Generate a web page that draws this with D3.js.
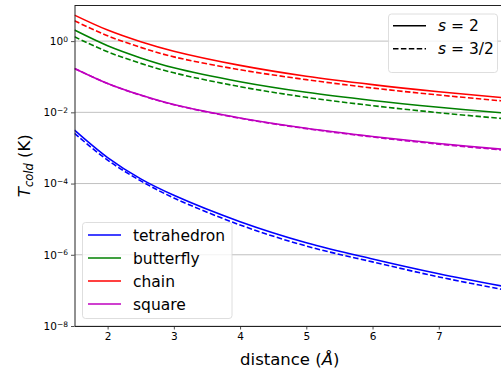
<!DOCTYPE html>
<html>
<head>
<meta charset="utf-8">
<script src="https://cdn.jsdelivr.net/npm/d3@7"></script>
<style>
  body { margin: 0; background: #fff; }
  svg { display: block; font-family: "DejaVu Sans", sans-serif; }
</style>
</head>
<body>
<div id="chart"></div>
<script>
// values
var distance = [1.5, 2, 2.5, 3, 4, 5, 6, 7, 8];

var tetra_s2  = [3.16e-3, 5.36e-4, 1.35e-4, 4.68e-5, 8.5e-6, 2.18e-6, 7.6e-7, 2.92e-7, 1.28e-7];
var tetra_s32 = [2.55e-3, 4.55e-4, 1.19e-4, 3.95e-5, 6.87e-6, 1.76e-6, 6.32e-7, 2.39e-7, 1.03e-7];
var butter_s2  = [2.04, 0.741, 0.338, 0.178, 0.0726, 0.0366, 0.0216, 0.0139, 0.00948];
var butter_s32 = [1.32, 0.502, 0.237, 0.1285, 0.0525, 0.0264, 0.0154, 0.00977, 0.00659];
var chain_s2  = [5.37, 2.04, 0.96, 0.52, 0.208, 0.103, 0.060, 0.038, 0.0256];
var chain_s32 = [3.72, 1.41, 0.667, 0.361, 0.157, 0.0828, 0.0482, 0.0306, 0.0206];
var square_s2  = [0.171, 0.0648, 0.0305, 0.0165, 0.00692, 0.00356, 0.00209, 0.00133, 0.000904];
var square_s32 = [0.171, 0.0645, 0.0302, 0.0163, 0.00680, 0.00348, 0.00203, 0.00128, 0.00086];

var names = ["tetrahedron", "butterfly", "chain", "square"];
var colors = ["#0000ff", "#008000", "#ff0000", "#bf00bf"];
var solid = [tetra_s2, butter_s2, chain_s2, square_s2];
var dashed = [tetra_s32, butter_s32, chain_s32, square_s32];

var yTicks = [1e-8, 1e-6, 1e-4, 1e-2, 1];
var yExp = ["\u22128", "\u22126", "\u22124", "\u22122", "0"];
var xTicks = [2, 3, 4, 5, 6, 7];

var W = 501, H = 371,
	mLeft = 74.5, mRight = 505, mTop = 5.5, mBottom = 326;

var svg = d3.select("#chart").append("svg")
	.attr("width", W).attr("height", H);

var x = d3.scaleLinear().domain([1.5, 8]).range([mLeft, mRight]);
var y = d3.scaleLog().domain([1e-8, 10]).range([mBottom, mTop]);

svg.append("clipPath").attr("id", "clip")
	.append("rect").attr("x", mLeft).attr("y", mTop)
	.attr("width", mRight - mLeft).attr("height", mBottom - mTop);

// grid
svg.append("g").selectAll("line").data(yTicks).enter().append("line")
	.attr("x1", mLeft).attr("x2", mRight)
	.attr("y1", function(d) { return y(d); })
	.attr("y2", function(d) { return y(d); })
	.style("stroke", "#b0b0b0").style("stroke-width", 0.8);

var line = d3.line()
	.x(function(d) { return x(d[0]); })
	.y(function(d) { return y(d[1]); })
	.curve(d3.curveCatmullRom);

var plot = svg.append("g").attr("clip-path", "url(#clip)");

for (var i = 0; i < names.length; i++) {
	plot.append("path")
		.datum(d3.zip(distance, solid[i]))
		.attr("d", line)
		.style("fill", "none").style("stroke", colors[i]).style("stroke-width", 1.6);
	plot.append("path")
		.datum(d3.zip(distance, dashed[i]))
		.attr("d", line)
		.style("fill", "none").style("stroke", colors[i]).style("stroke-width", 1.6)
		.style("stroke-dasharray", "5.5,2.4");
}

// axes
var xAxis = d3.axisBottom(x).tickValues(xTicks).tickFormat(d3.format("d"))
	.tickSize(3.5).tickSizeOuter(0).tickPadding(3);
var yAxis = d3.axisLeft(y).tickValues(yTicks).tickSize(3.5).tickSizeOuter(0).tickPadding(3);

var gx = svg.append("g").attr("transform", "translate(0," + mBottom + ")").call(xAxis);
gx.selectAll("text").style("font-size", "10.5px").style("fill", "#000")
	.style("font-family", "DejaVu Sans");

var gy = svg.append("g").attr("transform", "translate(" + mLeft + ",0)").call(yAxis);
gy.selectAll("text").style("font-size", "10.5px").style("fill", "#000")
	.style("font-family", "DejaVu Sans")
	.text("")
	.each(function(d, j) {
		var t = d3.select(this);
		t.append("tspan").text("10");
		t.append("tspan").attr("dy", "-0.45em").style("font-size", "7.5px").text(yExp[j]);
	});

svg.selectAll(".domain").style("stroke", "#222").style("stroke-width", 1);
svg.selectAll(".tick line").style("stroke", "#222").style("stroke-width", 0.8);

// top spine
svg.append("line").attr("x1", mLeft).attr("x2", mRight).attr("y1", mTop).attr("y2", mTop)
	.style("stroke", "#222").style("stroke-width", 1);

// axis labels
var xl = svg.append("text").attr("x", (mLeft + mRight) / 2).attr("y", 365)
	.attr("text-anchor", "middle").style("font-size", "16.5px");
xl.append("tspan").text("distance (");
xl.append("tspan").style("font-style", "italic").text("\u00c5");
xl.append("tspan").text(")");

var yl = svg.append("text")
	.attr("transform", "translate(30," + ((mTop + mBottom) / 2) + ") rotate(-90)")
	.attr("text-anchor", "middle").style("font-size", "16.5px");
yl.append("tspan").style("font-style", "italic").text("T");
yl.append("tspan").style("font-style", "italic").style("font-size", "11.5px").attr("dy", "0.3em").text("cold");
yl.append("tspan").attr("dy", "-0.2em").text(" (K)");

// legend: structures
var leg = svg.append("g");
leg.append("rect").attr("x", 82.5).attr("y", 222.5).attr("width", 149.5).attr("height", 96)
	.attr("rx", 3).style("fill", "#fff").style("fill-opacity", 0.8)
	.style("stroke", "#d6d6d6").style("stroke-width", 0.8);
names.forEach(function(n, i) {
	var yy = 235 + i * 23;
	leg.append("line").attr("x1", 88).attr("x2", 121).attr("y1", yy).attr("y2", yy)
		.style("stroke", colors[i]).style("stroke-width", 1.6);
	leg.append("text").attr("x", 133).attr("y", yy + 5.5).style("font-size", "15.5px").text(n);
});

// legend: spin
var leg2 = svg.append("g");
leg2.append("rect").attr("x", 388.5).attr("y", 14).attr("width", 109).attr("height", 58.5)
	.attr("rx", 3).style("fill", "#fff").style("fill-opacity", 0.8)
	.style("stroke", "#d6d6d6").style("stroke-width", 0.8);
[["2", null], ["3/2", "5.5,2.4"]].forEach(function(s, i) {
	var yy = 25.7 + i * 23;
	leg2.append("line").attr("x1", 393).attr("x2", 426).attr("y1", yy).attr("y2", yy)
		.style("stroke", "#000").style("stroke-width", 1.6)
		.style("stroke-dasharray", s[1]);
	var t = leg2.append("text").attr("x", 438).attr("y", yy + 5.5).style("font-size", "15.5px");
	t.append("tspan").style("font-style", "italic").text("s");
	t.append("tspan").text(" = " + s[0]);
});
</script>
</body>
</html>
